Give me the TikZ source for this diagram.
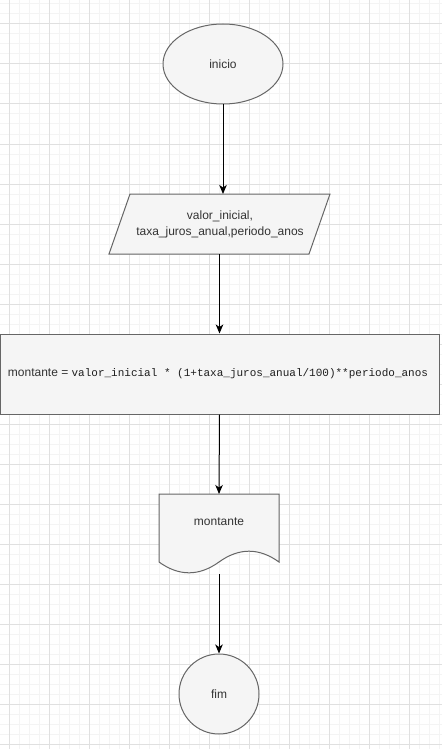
\documentclass[tikz,border=0pt]{standalone}
\usepackage{fontspec}
\setmainfont{Liberation Sans}
\setmonofont{Liberation Mono}
\usetikzlibrary{shapes.geometric,arrows.meta}
\definecolor{shapefill}{HTML}{F5F5F5}
\definecolor{shapeline}{HTML}{666666}
\definecolor{labeltext}{HTML}{333333}
\definecolor{codetext}{HTML}{1E1E1E}
\definecolor{gridmajor}{HTML}{E0E0E0}
\definecolor{gridminor}{HTML}{F4F4F4}
\tikzset{
  shapestyle/.style={fill=shapefill, draw=shapeline, line width=1pt},
  lbl/.style={text=labeltext, font=\fontsize{12}{16}\selectfont, align=center, inner sep=0pt},
  ghost/.style={inner sep=0pt, outer sep=0pt},
  flow/.style={draw=black, line width=1pt, -{Stealth[length=9pt,width=7.5pt,inset=2.5pt]}},
}
\begin{document}
\begin{tikzpicture}[x=1pt, y=-1pt]
  \useasboundingbox (0,0) rectangle (442,749);
  \fill[white] (0,0) rectangle (442,749);

  % background grid
  \foreach \gx in {9,19,...,439} \draw[gridminor, line width=1pt] (\gx,0) -- (\gx,749);
  \foreach \gy in {4,14,...,744} \draw[gridminor, line width=1pt] (0,\gy) -- (442,\gy);
  \foreach \gx in {9,49,...,409} \draw[gridmajor, line width=1pt] (\gx,0) -- (\gx,749);
  \foreach \gy in {24,64,...,744} \draw[gridmajor, line width=1pt] (0,\gy) -- (442,\gy);

  % start
  \node[ellipse, shapestyle, minimum width=120pt, minimum height=80pt, inner sep=0pt] (inicio) at (223,64) {};
  \node[lbl] at (inicio.center) {inicio};

  % input (parallelogram)
  \node[ghost, minimum width=221pt, minimum height=60pt] (entrada) at (219.5,224) {};
  \draw[shapestyle] (130,194) -- (330,194) -- (309,254) -- (109,254) -- cycle;
  \node[lbl] at (220,224) {valor\_inicial,\\taxa\_juros\_anual,periodo\_anos};

  % computation
  \node[rectangle, shapestyle, minimum width=439pt, minimum height=80pt, inner sep=0pt] (calculo) at (219.5,374) {};
  \node[lbl] at (218,374) {montante = {\ttfamily\fontsize{11}{14}\selectfont\color{codetext}valor\_inicial * (1+taxa\_juros\_anual/100)**periodo\_anos}};

  % output (document)
  \node[ghost, minimum width=120pt, minimum height=80pt] (saida) at (219,534) {};
  \draw[shapestyle] (159,494) -- (279,494) -- (279,562)
      .. controls (259,547.6) and (239,547.6) .. (219,562)
      .. controls (199,576.4) and (179,576.4) .. (159,562) -- cycle;
  \node[lbl] at (219,522) {montante};

  % end
  \node[circle, shapestyle, minimum size=80pt, inner sep=0pt] (fim) at (219,694) {};
  \node[lbl] at (fim.center) {fim};

  % connectors
  \draw[flow] (inicio.south) -- (inicio.south |- entrada.north);
  \draw[flow] (entrada.south) -- (calculo.north);
  \draw[flow] (calculo.south) -- (saida.north);
  \draw[flow] (219,574) coordinate (saidabase) -- (fim.north);
\end{tikzpicture}
\end{document}
